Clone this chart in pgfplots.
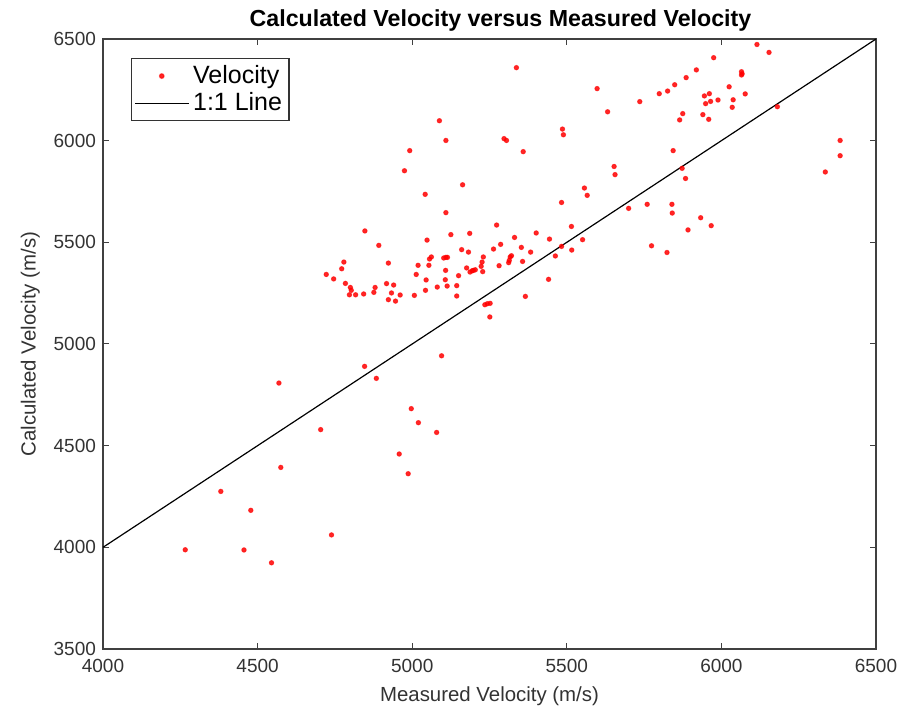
\documentclass[border=0pt]{standalone}
\usepackage{fontspec}
\setmainfont{Liberation Sans}
\usepackage{pgfplots}
\pgfplotsset{compat=1.18}
\pgfplotsset{
  dotlegend/.style={legend image code/.code={\draw[mark repeat=2,mark phase=2,##1] plot coordinates {(0.1cm,0cm)(0.57cm,0cm)(1.04cm,0cm)};}},
  linelegend/.style={legend image code/.code={\draw[##1] (0.1cm,0cm) -- (1.04cm,0cm);}},
}
\begin{document}
\begin{tikzpicture}
\begin{axis}[
  width=386.5pt, height=305pt, scale only axis,
  xmin=4000, xmax=6500, ymin=3500, ymax=6500,
  xtick={4000,4500,...,6500}, ytick={3500,4000,...,6500},
  tick align=inside, major tick length=3pt,
  axis line style={line width=0.7pt, draw=black!75},
  every tick/.style={black!75, line width=0.5pt},
  /pgf/number format/assume math mode=true,
  /pgf/number format/1000 sep={},
  tick label style={font=\fontsize{9.5}{10}\selectfont, text=black!80},
  xticklabel style={yshift=-1.5pt},
  xlabel={Measured Velocity (m/s)}, ylabel={Calculated Velocity (m/s)},
  label style={font=\fontsize{10.2}{12}\selectfont, text=black!80},
  title={\bfseries Calculated Velocity versus Measured Velocity},
  every axis title shift=0pt,
  title style={font=\fontsize{11.6}{13}\selectfont, at={(0.5,1)}, anchor=base, yshift=6pt, xshift=5.5pt},
  legend style={at={(0.036,0.969)}, anchor=north west,
    font=\fontsize{12.5}{13}\selectfont, draw=black!80, line width=0.6pt,
    inner sep=1.5pt, row sep=-1pt},
  legend cell align=left,
]
\addplot[only marks, mark=*, mark size=1.15pt, draw=red, fill=red, mark options={draw opacity=0.6, fill opacity=0.85}, dotlegend]
coordinates {
(4847,5556)(5088,6098)(5109,6001)(4992,5951)(4975,5852)(5042,5736)(5163,5783)(5109,5646)
(5297,6010)(5305,6001)(5359,5946)(5486,6057)(5489,6029)(5557,5767)(5566,5731)(5483,5696)
(4892,5485)(4779,5403)(4772,5370)(4746,5320)(4784,5298)(4800,5278)(4803,5264)(4797,5242)
(4817,5242)(4843,5246)(4876,5254)(4880,5278)(4917,5297)(4940,5290)(4923,5398)(4933,5251)
(4923,5218)(4946,5211)(4961,5241)(5007,5239)(5013,5342)(5019,5387)(5045,5315)(5043,5264)
(5048,5511)(5054,5387)(5056,5418)(5062,5428)(5081,5280)(5102,5423)(5109,5426)(5114,5426)
(5108,5362)(5107,5316)(5113,5285)(5125,5538)(5144,5287)(5144,5236)(5150,5336)(5160,5464)
(5182,5452)(5186,5544)(5176,5374)(5187,5354)(5194,5360)(5198,5362)(5204,5365)(5223,5382)
(5226,5403)(5228,5356)(5230,5428)(5235,5193)(5243,5198)(5252,5200)(5251,5133)(5263,5467)
(5273,5585)(5281,5385)(5286,5490)(5314,5411)(5317,5428)(5321,5434)(5312,5400)(5331,5524)
(5353,5475)(5357,5406)(5366,5234)(5383,5452)(5401,5546)(5441,5318)(5444,5516)(5463,5433)
(5483,5480)(5515,5578)(5516,5462)(5551,5513)(6115,6473)(6154,6434)(5975,6408)(5919,6348)
(5886,6310)(6065,6339)(6067,6329)(6065,6323)(5849,6275)(5826,6244)(5799,6231)(5598,6256)
(5736,6192)(5632,6142)(6025,6265)(5945,6220)(5961,6231)(5949,6182)(5965,6193)(5989,6200)
(6038,6201)(6035,6164)(6077,6230)(6181,6167)(5875,6133)(5865,6102)(5940,6128)(5959,6105)
(6384,6001)(6384,5926)(6336,5846)(5844,5951)(5653,5873)(5656,5833)(5873,5864)(5884,5814)
(5760,5687)(5700,5667)(5840,5687)(5841,5644)(5933,5621)(5967,5582)(5892,5561)(5774,5483)
(5824,5450)(5095,4942)(4846,4890)(4884,4831)(4569,4808)(4997,4682)(5020,4613)(5079,4565)
(4704,4579)(4958,4459)(4987,4362)(4575,4393)(4381,4275)(4478,4182)(4739,4061)(4266,3988)
(4456,3987)(4545,3924)(5337,6359)(4722,5342)
};
\addlegendentry{Velocity}
\addplot[black, line width=0.6pt, linelegend]
coordinates {(4000,4000)(6500,6500)};
\addlegendentry{1:1 Line}
\end{axis}
\pgfresetboundingbox
\path[use as bounding box] ([shift={(-51.5pt,-29pt)}]current axis.south west) rectangle ([shift={(19.5pt,19.5pt)}]current axis.north east);
\end{tikzpicture}
\end{document}
